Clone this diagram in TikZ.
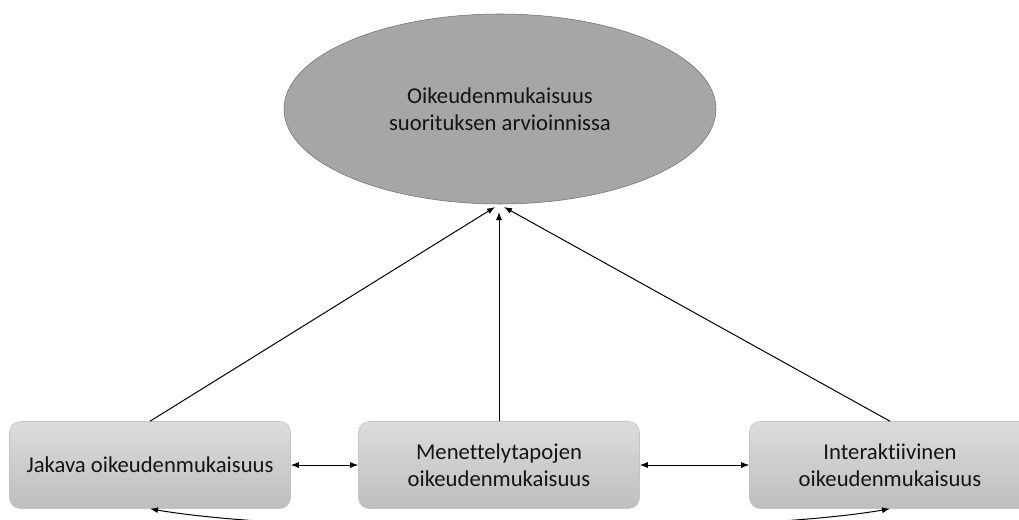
\documentclass[tikz,border=0pt]{standalone}
\usepackage{fontspec}
\setmainfont{Carlito}[Ligatures={NoCommon,NoRequired,NoContextual}]
\usetikzlibrary{arrows.meta,shapes.geometric}

\definecolor{ovalgray}{HTML}{A6A6A6}
\definecolor{ovalline}{HTML}{707070}
\definecolor{boxtop}{HTML}{DCDCDC}
\definecolor{boxbottom}{HTML}{BEBEBE}
\definecolor{boxline}{HTML}{C4C4C4}
\definecolor{txt}{HTML}{141414}

\begin{document}
\begin{tikzpicture}[x=0.75pt,y=-0.75pt,
    font=\fontsize{17pt}{20.6pt}\selectfont,
    tip/.style={-{Latex[length=6pt,width=4.5pt]}},
    both/.style={{Latex[length=6pt,width=4.5pt]}-{Latex[length=6pt,width=4.5pt]}}]

      \path[use as bounding box,clip] (0,0) rectangle (1019,520);

      \node (o) at (500,109) [ellipse,draw=ovalline,fill=ovalgray,text=txt,
        minimum width=324pt,minimum height=142.5pt,align=center]
        {Oikeudenmukaisuus\\suorituksen arvioinnissa};

      \begin{scope}[every node/.style={rectangle,rounded corners=8pt,draw=boxline,
          top color=boxtop,bottom color=boxbottom,text=txt,align=center,
          minimum width=210.75pt,minimum height=65.25pt}]
        \node (j) at (150,465) {Jakava oikeudenmukaisuus};
        \node (m) at (499,465) {Menettelytapojen\\oikeudenmukaisuus};
        \node (i) at (890,465) {Interaktiivinen\\oikeudenmukaisuus};
      \end{scope}

      \coordinate (oj) at (495,207);
      \coordinate (om) at (499,212);
      \coordinate (oi) at (504,207);

      \begin{scope}[every edge/.style={draw,line width=0.75pt}]
        \path (j.north) edge[tip] (oj);
        \path (m.north) edge[tip] (om);
        \path (i.north) edge[tip] (oi);
        \path (j) edge[both] (m);
        \path (m) edge[both] (i);
      \end{scope}

      \draw[both,line width=0.75pt] (j.south) .. controls (300,535) and (740,535) .. (i.south);

    \end{tikzpicture}
\end{document}
